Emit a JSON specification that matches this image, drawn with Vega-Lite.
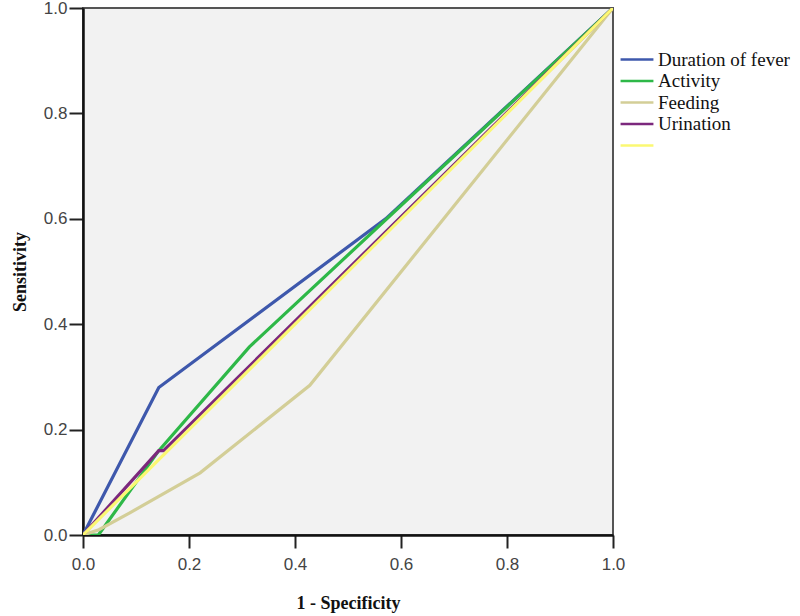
{
  "$schema": "https://vega.github.io/schema/vega-lite/v6.json",
  "width": 530,
  "height": 527,
  "autosize": "none",
  "padding": {"left": 83, "top": 8, "right": 187, "bottom": 81},
  "background": "white",
  "config": {
    "view": {"fill": "#f2f2f2", "stroke": "#555555", "strokeWidth": 2},
    "axis": {
      "domainColor": "#111111",
      "domainWidth": 2.5,
      "tickColor": "#222222",
      "tickWidth": 2,
      "grid": false,
      "labelFont": "Liberation Sans",
      "labelFontSize": 17,
      "labelColor": "#444444",
      "titleFont": "Liberation Serif",
      "titleFontSize": 18,
      "titleFontWeight": "bold",
      "titleColor": "#111111"
    },
    "legend": {
      "labelFont": "Liberation Serif",
      "labelFontSize": 19,
      "labelColor": "#111111"
    }
  },
  "data": {
    "values": [
      {"series": "Duration of fever", "fpr": 0, "tpr": 0},
      {"series": "Duration of fever", "fpr": 0.143, "tpr": 0.28},
      {"series": "Duration of fever", "fpr": 0.571, "tpr": 0.6},
      {"series": "Duration of fever", "fpr": 1, "tpr": 1},
      {"series": "Activity", "fpr": 0, "tpr": 0},
      {"series": "Activity", "fpr": 0.029, "tpr": 0},
      {"series": "Activity", "fpr": 0.143, "tpr": 0.16},
      {"series": "Activity", "fpr": 0.314, "tpr": 0.357},
      {"series": "Activity", "fpr": 1, "tpr": 1},
      {"series": "Feeding", "fpr": 0, "tpr": 0},
      {"series": "Feeding", "fpr": 0.03, "tpr": 0.01},
      {"series": "Feeding", "fpr": 0.09, "tpr": 0.043},
      {"series": "Feeding", "fpr": 0.221, "tpr": 0.118},
      {"series": "Feeding", "fpr": 0.428, "tpr": 0.284},
      {"series": "Feeding", "fpr": 1, "tpr": 1},
      {"series": "Urination", "fpr": 0, "tpr": 0},
      {"series": "Urination", "fpr": 0.143, "tpr": 0.16},
      {"series": "Urination", "fpr": 0.152, "tpr": 0.16},
      {"series": "Urination", "fpr": 1, "tpr": 1},
      {"series": "Reference", "fpr": 0, "tpr": 0},
      {"series": "Reference", "fpr": 1, "tpr": 1}
    ]
  },
  "mark": {"type": "line", "strokeWidth": 3.2, "clip": true},
  "encoding": {
    "x": {
      "field": "fpr",
      "type": "quantitative",
      "title": "1 - Specificity",
      "scale": {"domain": [0, 1], "nice": false, "zero": false},
      "axis": {"values": [0, 0.2, 0.4, 0.6, 0.8, 1], "format": ".1f", "tickSize": 13, "labelPadding": 8, "titlePadding": 22, "labelFlush": false}
    },
    "y": {
      "field": "tpr",
      "type": "quantitative",
      "title": "Sensitivity",
      "scale": {"domain": [0, 1], "nice": false, "zero": false},
      "axis": {"values": [0, 0.2, 0.4, 0.6, 0.8, 1], "format": ".1f", "tickSize": 14, "labelPadding": 2, "titlePadding": 14, "labelFlush": false}
    },
    "color": {
      "field": "series",
      "type": "nominal",
      "scale": {
        "domain": ["Duration of fever", "Activity", "Feeding", "Urination", "Reference"],
        "range": ["#3e58ac", "#2eb848", "#d3ce97", "#7c287d", "#fbf873"]
      },
      "legend": {
        "title": null,
        "orient": "none",
        "legendX": 544.5,
        "legendY": 42,
        "padding": 0,
        "symbolType": "M-6,0H6",
        "symbolSize": 30,
        "symbolStrokeWidth": 2.5,
        "labelOffset": 11.5,
        "rowPadding": 1.5,
        "labelLimit": 200,
        "labelExpr": "datum.label == 'Reference' ? '' : datum.label"
      }
    },
    "order": {"field": "series"}
  }
}
